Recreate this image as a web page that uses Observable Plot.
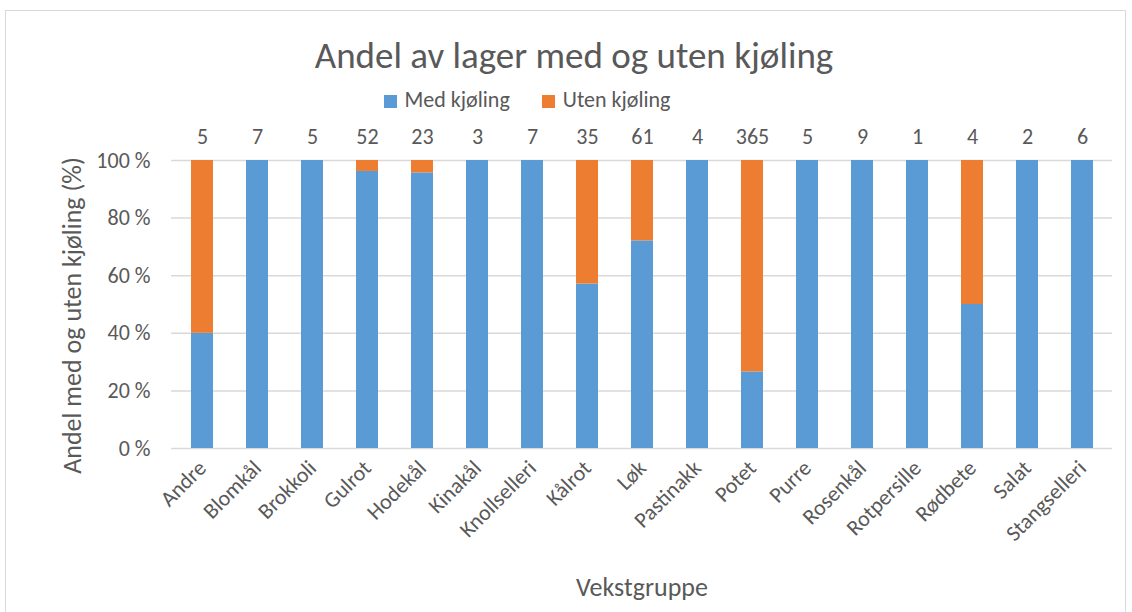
<!DOCTYPE html>
<html><head><meta charset="utf-8">
<script src="https://cdn.jsdelivr.net/npm/d3@7"></script>
<script src="https://cdn.jsdelivr.net/npm/@observablehq/plot@0.6"></script>
<style>
body{margin:0;background:#fff;font-family:Carlito,Lato,sans-serif;color:#595959;}
#wrap{position:relative;width:1132px;height:612px;overflow:hidden;}
#frame{position:absolute;left:5px;top:10px;width:1121px;height:610px;border:1px solid #d9d9d9;box-sizing:border-box;}
#title{position:absolute;top:34px;left:0;width:1148px;text-align:center;font-size:37px;line-height:44px;color:#595959;}
#legend{position:absolute;top:86px;left:0;width:1054px;text-align:center;font-size:22px;line-height:28px;color:#595959;}
#legend span.sw{display:inline-block;width:13px;height:13px;margin-right:8px;vertical-align:-1px;}
#legend span.it{margin:0 16px;}
#chart{position:absolute;left:0;top:118px;}
</style></head>
<body><div id="wrap"><div id="frame"></div>
<div id="title">Andel av lager med og uten kjøling</div>
<div id="legend"></div>
<div id="chart"></div></div>
<script>
const categories = ["Andre","Blomkål","Brokkoli","Gulrot","Hodekål","Kinakål","Knollselleri","Kålrot","Løk","Pastinakk","Potet","Purre","Rosenkål","Rotpersille","Rødbete","Salat","Stangselleri"];
const counts = [5,7,5,52,23,3,7,35,61,4,365,5,9,1,4,2,6];
const medKjoling = [40,100,100,96.2,95.7,100,100,57.1,72.1,100,26.6,100,100,100,50,100,100];
const series = ["Med kjøling","Uten kjøling"];
const colors = ["#5b9bd5","#ed7d31"];
const yTicks = [0,20,40,60,80,100];

const rows = [];
categories.forEach((c,i)=>{
  rows.push({cat:c, s:series[0], v:medKjoling[i]});
  rows.push({cat:c, s:series[1], v:100-medKjoling[i]});
});
const countRows = categories.map((c,i)=>({cat:c, n:counts[i]}));

const leg = document.getElementById("legend");
series.forEach((s,i)=>{
  const it=document.createElement("span"); it.className="it";
  it.innerHTML=`<span class="sw" style="background:${colors[i]}"></span>${s}`;
  leg.appendChild(it);
});

const FONT = 'Carlito,Lato,sans-serif';
const chart = Plot.plot({
  width:1132, height:494,
  marginLeft:171, marginRight:20, marginTop:42, marginBottom:164,
  style:{fontFamily:FONT, fontSize:"22px", color:"#595959", background:"transparent"},
  x:{domain:categories, paddingInner:0.6, paddingOuter:0.3, axis:null},
  y:{domain:[0,100], axis:null},
  color:{domain:series, range:colors},
  marks:[
    Plot.gridY(yTicks,{stroke:"#d9d9d9", strokeOpacity:1, strokeWidth:1.5}),
    Plot.barY(rows, Plot.stackY({x:"cat", y:"v", fill:"s", order:series})),
    Plot.text(countRows,{x:"cat", text:d=>String(d.n), frameAnchor:"top", dy:-32, fontSize:22, fill:"#595959"}),
    Plot.axisX({tickRotate:-45, tickSize:0, tickPadding:16, fontSize:22, fill:"#595959", label:"Vekstgruppe", labelAnchor:"center", labelOffset:147, labelArrow:"none"}),
    Plot.axisY(yTicks, {tickFormat:d=>d+" %", tickSize:0, tickPadding:21, fontSize:22, fill:"#595959", label:"Andel med og uten kjøling (%)", labelAnchor:"center", labelOffset:109, labelArrow:"none"})
  ]
});
chart.querySelectorAll("g[aria-label$='tick label']").forEach(g=>{g.setAttribute("font-size","22");g.querySelectorAll("text").forEach(t=>t.style.fontSize="22px");});
chart.querySelectorAll("g[aria-label$='axis label']").forEach(g=>{g.setAttribute("font-size","26");g.querySelectorAll("text").forEach(t=>{t.style.fontSize="26px";t.textContent=t.textContent.replace(/\s*[→↑←↓]\s*/g,"");});});
const yl = chart.querySelector("g[aria-label='y-axis label']");
if (yl) yl.setAttribute("transform", (yl.getAttribute("transform")||"") + " translate(0,11)");
document.getElementById("chart").appendChild(chart);
</script></body></html>
